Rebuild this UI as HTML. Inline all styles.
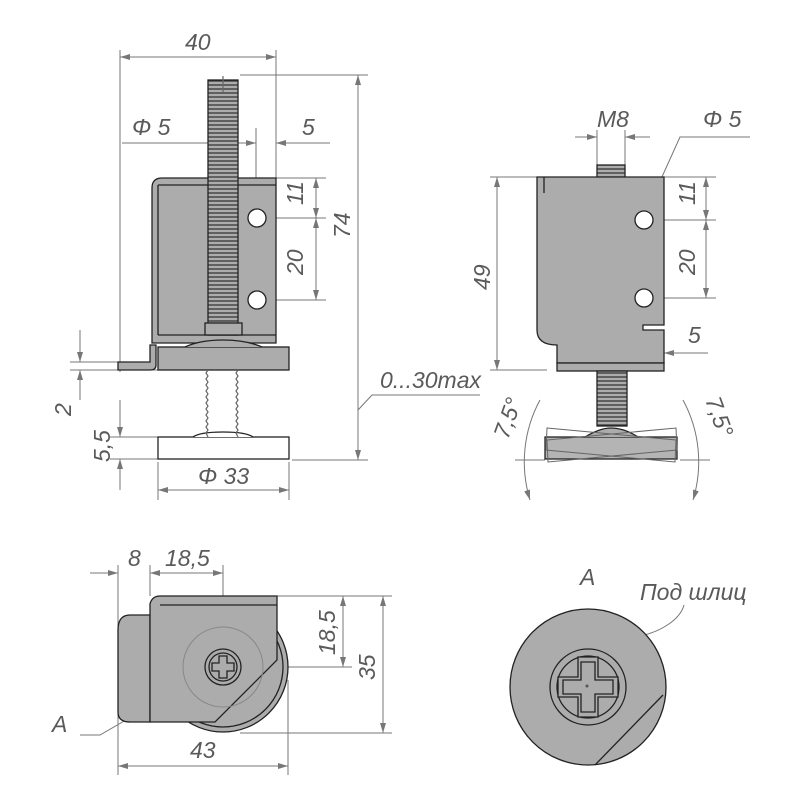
<!DOCTYPE html>
<html><head><meta charset="utf-8"><style>body{margin:0;background:#fff}svg{display:block}
text{font-family:"Liberation Sans","DejaVu Sans",sans-serif;font-style:italic;fill:#5a5a5a;font-size:23px}</style></head>
<body>
<svg width="800" height="800" viewBox="0 0 800 800" xmlns="http://www.w3.org/2000/svg">
<defs>
<marker id="a" viewBox="0 0 10 6" refX="10" refY="3" markerWidth="12" markerHeight="6" orient="auto-start-reverse" markerUnits="userSpaceOnUse"><path d="M0,0L10,3L0,6z" fill="#777"/></marker>
<pattern id="th" width="30" height="4" patternUnits="userSpaceOnUse"><rect width="30" height="4" fill="#acacac"/><line x1="0" y1="1" x2="30" y2="1" stroke="#333" stroke-width="1.2"/></pattern>
</defs>
<g stroke="#777" stroke-width="1" fill="none">
<line x1="120" y1="50" x2="120" y2="372"/>
<line x1="276" y1="50" x2="276" y2="178"/>
<line x1="120" y1="57" x2="276" y2="57" marker-start="url(#a)" marker-end="url(#a)"/>
<line x1="240" y1="75" x2="368" y2="75"/>
<line x1="292" y1="460" x2="368" y2="460"/>
<line x1="358" y1="75" x2="358" y2="460" marker-start="url(#a)" marker-end="url(#a)"/>
<line x1="122" y1="143" x2="256" y2="143" marker-end="url(#a)"/>
<line x1="256" y1="128" x2="256" y2="210"/>
<line x1="330" y1="143" x2="276" y2="143" marker-end="url(#a)"/>
<line x1="270" y1="178" x2="326" y2="178"/><line x1="266" y1="218" x2="326" y2="218"/><line x1="266" y1="300" x2="326" y2="300"/>
<line x1="316" y1="178" x2="316" y2="218" marker-start="url(#a)" marker-end="url(#a)"/>
<line x1="316" y1="218" x2="316" y2="300" marker-start="url(#a)" marker-end="url(#a)"/>
<line x1="225" y1="170" x2="270" y2="240" marker-end="url(#a)"/>
<line x1="70" y1="362" x2="118" y2="362"/><line x1="70" y1="370" x2="158" y2="370"/>
<line x1="80" y1="330" x2="80" y2="362" marker-end="url(#a)"/><line x1="80" y1="400" x2="80" y2="370" marker-end="url(#a)"/>
<line x1="110" y1="437" x2="158" y2="437"/><line x1="110" y1="459" x2="158" y2="459"/>
<line x1="120" y1="400" x2="120" y2="437" marker-end="url(#a)"/><line x1="120" y1="490" x2="120" y2="459" marker-end="url(#a)"/>
<line x1="158" y1="462" x2="158" y2="500"/><line x1="289" y1="462" x2="289" y2="500"/>
<line x1="158" y1="490" x2="289" y2="490" marker-start="url(#a)" marker-end="url(#a)"/>
<polyline points="480,395 372,395 358,410"/>
<line x1="490" y1="177" x2="537" y2="177"/><line x1="490" y1="370" x2="547" y2="370"/>
<line x1="497" y1="177" x2="497" y2="370" marker-start="url(#a)" marker-end="url(#a)"/>
<line x1="597" y1="130" x2="597" y2="168"/><line x1="625" y1="130" x2="625" y2="168"/>
<line x1="575" y1="137" x2="597" y2="137" marker-end="url(#a)"/><line x1="650" y1="137" x2="625" y2="137" marker-end="url(#a)"/>
<polyline points="750,137 680,137 647,210" marker-end="url(#a)"/>
<line x1="625" y1="265" x2="640" y2="228" marker-end="url(#a)"/>
<line x1="664" y1="177" x2="716" y2="177"/><line x1="652" y1="220" x2="716" y2="220"/><line x1="652" y1="298" x2="716" y2="298"/>
<line x1="706" y1="177" x2="706" y2="220" marker-start="url(#a)" marker-end="url(#a)"/>
<line x1="706" y1="220" x2="706" y2="298" marker-start="url(#a)" marker-end="url(#a)"/>
<line x1="643" y1="305" x2="643" y2="360"/>
<line x1="608" y1="353" x2="643" y2="353" marker-end="url(#a)"/><line x1="708" y1="353" x2="664" y2="353" marker-end="url(#a)"/>
<path d="M540,400 A130,130 0 0,0 530,500" marker-end="url(#a)"/>
<path d="M683,400 A130,130 0 0,1 693,500" marker-end="url(#a)"/>
<line x1="515" y1="460" x2="545" y2="460"/><line x1="680" y1="460" x2="710" y2="460"/>
<line x1="118" y1="565" x2="118" y2="775"/><line x1="150" y1="565" x2="150" y2="596"/><line x1="223" y1="565" x2="223" y2="667"/>
<line x1="90" y1="573" x2="118" y2="573" marker-end="url(#a)"/>
<line x1="150" y1="573" x2="223" y2="573" marker-start="url(#a)" marker-end="url(#a)"/>
<line x1="288" y1="680" x2="288" y2="775"/>
<line x1="118" y1="766" x2="288" y2="766" marker-start="url(#a)" marker-end="url(#a)"/>
<line x1="277" y1="596" x2="392" y2="596"/><line x1="223" y1="667" x2="352" y2="667"/><line x1="240" y1="733" x2="392" y2="733"/>
<line x1="343" y1="596" x2="343" y2="667" marker-start="url(#a)" marker-end="url(#a)"/>
<line x1="383" y1="596" x2="383" y2="733" marker-start="url(#a)" marker-end="url(#a)"/>
<polyline points="80,735 100,735 185,686"/>
<path d="M590,688 C600,630 620,640 640,636 C660,632 680,620 684,605"/>
</g>

<g stroke="#222" stroke-width="1.3">
<path d="M152,343 L152,188 Q152,178 162,178 L276,178 L276,343 Z" fill="#acacac"/>
<line x1="158" y1="185" x2="276" y2="185"/>
<line x1="158" y1="185" x2="158" y2="335"/>
<line x1="158" y1="335" x2="276" y2="335"/>
<path d="M118,362 L150,362 L150,345 L156,345 L156,365 Q156,370 150,370 L118,370 Z" fill="#acacac"/>
<rect x="158" y="347" width="131" height="23" fill="#acacac"/>
<path d="M185,347 Q200,340 223,340 Q246,340 262,347" fill="#acacac"/>
<rect x="208" y="80" width="30" height="255" fill="url(#th)"/>
<rect x="205" y="323" width="37" height="12" fill="#acacac"/>
<circle cx="257" cy="218" r="9" fill="#fff"/><circle cx="257" cy="300" r="9" fill="#fff"/>
<rect x="158" y="437" width="131" height="22" fill="#fff"/>
<path d="M193,437 Q200,432 223,432 Q246,432 253,437" fill="#fff"/>
</g>
<g stroke="#666" stroke-width="1.2" fill="none">
<path d="M208,370 l-2,3 2,3 -2,3 2,3 -2,3 2,3 -2,3 2,3 -2,3 2,3 -2,3 2,3 -2,3 2,3 -2,3 2,3 -2,3 2,3 -2,3 2,3 -2,3 2,4"/>
<path d="M238,370 l-2,3 2,3 -2,3 2,3 -2,3 2,3 -2,3 2,3 -2,3 2,3 -2,3 2,3 -2,3 2,3 -2,3 2,3 -2,3 2,3 -2,3 2,3 -2,3 2,4"/>
<line x1="223" y1="76" x2="223" y2="92"/>
</g>

<g stroke="#222" stroke-width="1.3">
<rect x="597" y="165" width="28" height="14" fill="url(#th)"/>
<path d="M537,177 L664,177 L664,325 L643,325 L643,330 L664,330 L664,363 L557,363 L557,345 Q537,345 537,330 Z" fill="#acacac"/>
<rect x="557" y="363" width="107" height="8" fill="#acacac"/>
<rect x="597" y="371" width="30" height="55" fill="url(#th)"/>
<line x1="544" y1="177" x2="544" y2="193"/>
<circle cx="644" cy="220" r="9" fill="#fff"/><circle cx="644" cy="298" r="9" fill="#fff"/>
<rect x="545" y="437" width="132" height="22" fill="#b4b4b4"/>
<path d="M585,437 Q600,428 611,428 Q624,428 638,437" fill="#acacac"/>
</g>
<g stroke="#666" stroke-width="1" fill="none">
<polygon points="547,428 676,440 675,462 546,450"/><polygon points="547,440 676,428 677,450 548,462"/>
</g>

<g stroke="#222" stroke-width="1.3">
<circle cx="223" cy="667" r="65" fill="#acacac"/>
<circle cx="223" cy="667" r="60" fill="#acacac"/>
<path d="M150,615 L130,615 Q118,615 118,630 L118,712 Q118,722 130,722 L150,722 Z" fill="#acacac"/>
<path d="M150,722 L150,604 Q152,596 160,596 L277,596 L277,660 L215,722 Z" fill="#acacac"/>
<line x1="160" y1="605" x2="277" y2="605"/>
</g>
<circle cx="223" cy="667" r="40" fill="none" stroke="#888" stroke-width="1"/>
<g stroke="#222" stroke-width="1.3">
<circle cx="223" cy="667" r="18" fill="#acacac"/><circle cx="223" cy="667" r="14" fill="#acacac"/>
<path d="M219,656h8v7h7v8h-7v7h-8v-7h-7v-8h7z" fill="#acacac"/>
</g>

<g stroke="#222" stroke-width="1.3">
<circle cx="588" cy="687" r="78" fill="#acacac"/>
<path d="M663,695 L595,765" fill="none"/>
<circle cx="588" cy="687" r="38" fill="#acacac"/><circle cx="588" cy="687" r="31" fill="#acacac"/>
<path d="M578,657h20v20h20v20h-20v20h-20v-20h-20v-20h20z" fill="#acacac"/>
<path d="M581,662h14v18h18v14h-18v18h-14v-18h-18v-14h18z" fill="none"/>
</g>
<circle cx="587" cy="686" r="1.5" fill="#555"/>

<text x="185" y="50">40</text>
<text x="132" y="135">Φ 5</text>
<text x="302" y="135">5</text>
<text transform="translate(303,205) rotate(-90)">11</text>
<text transform="translate(303,275) rotate(-90)">20</text>
<text transform="translate(350,238) rotate(-90)">74</text>
<text x="380" y="388">0...30max</text>
<text transform="translate(71,416) rotate(-90)">2</text>
<text transform="translate(110,462) rotate(-90)">5,5</text>
<text x="198" y="484">Φ 33</text>
<text transform="translate(490,290) rotate(-90)">49</text>
<text x="597" y="127">M8</text>
<text x="703" y="127">Φ 5</text>
<text transform="translate(695,205) rotate(-90)">11</text>
<text transform="translate(695,275) rotate(-90)">20</text>
<text x="688" y="343">5</text>
<text transform="translate(508,440) rotate(-70)">7,5°</text>
<text transform="translate(705,400) rotate(70)">7,5°</text>
<text x="128" y="566">8</text>
<text x="165" y="566">18,5</text>
<text transform="translate(335,655) rotate(-90)">18,5</text>
<text transform="translate(375,680) rotate(-90)">35</text>
<text x="190" y="758">43</text>
<text x="52" y="732">A</text>
<text x="580" y="585">A</text>
<text x="640" y="600" font-size="20">Под шлиц</text>
</svg>
</body></html>
